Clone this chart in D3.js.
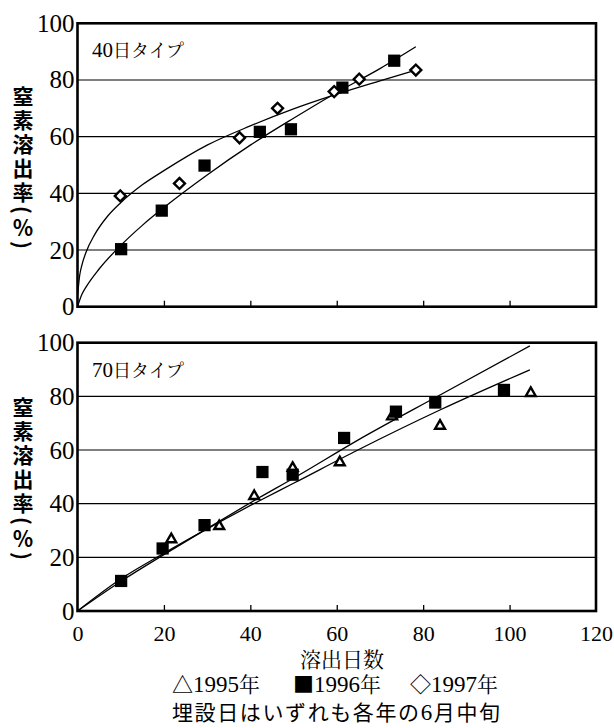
<!DOCTYPE html>
<html>
<head>
<meta charset="utf-8">
<script src="https://cdn.jsdelivr.net/npm/d3@7.9.0/dist/d3.min.js"></script>
<style>
  body { margin: 0; background: #fff; }
  svg { display: block; }
</style>
</head>
<body>
<svg id="chart" width="614" height="728"></svg>
<script>
const serif = '"Liberation Serif"';
const mincho = '"Noto Serif CJK JP"';
const gothic = '"Noto Sans CJK JP"';

const xTicks = [0, 20, 40, 60, 80, 100, 120];
const yTicks = [0, 20, 40, 60, 80, 100];
const yTitle = '窒素溶出率(％)';

// 40日タイプ
const sq40 = [[10.1, 20.3], [19.5, 33.9], [29.4, 49.8], [42.2, 61.7], [49.4, 62.6], [61.3, 77.3], [73.3, 86.8]];
const dia40 = [[9.9, 39.1], [23.6, 43.5], [37.5, 59.6], [46.3, 70.0], [59.4, 75.9], [65.2, 80.3], [78.3, 83.5]];
const sqFit40 = [[0, 0], [1, 4.3], [2, 7], [5, 13.3], [10, 21.6], [15, 28.7], [20, 35], [30, 46.5], [40, 57], [50, 66.5], [60, 75.6], [70, 84], [78.3, 91.7]];
const diaFit40 = [[0.05, 4.5], [0.5, 11], [1, 14.6], [2, 19.3], [4, 25.5], [7, 32], [10, 36.7], [15, 43], [20, 48], [30, 57], [40, 63.8], [50, 69.8], [60, 75], [70, 79.7], [78.3, 83.5]];

// 70日タイプ
const tri70 = [[21.7, 26.7], [32.8, 31.6], [40.9, 42.8], [49.8, 53.3], [60.7, 55.4], [72.8, 72.5], [83.9, 69.0], [104.9, 81.2]];
const sq70 = [[10.1, 11.2], [19.7, 23.3], [29.4, 32.0], [42.8, 51.8], [49.8, 50.8], [61.7, 64.5], [73.7, 74.3], [82.8, 77.7], [98.7, 82.4]];
const sqFit70 = [[0, 0], [10, 11], [20, 21], [30, 30.7], [42, 42.2], [50, 49.5], [65, 63.8], [84, 80.6], [104.7, 98.8]];
const triFit70 = [[0, 0], [10, 11.9], [20, 21.5], [30, 30.6], [42, 41], [50, 47.6], [65, 60.1], [84, 75], [104.7, 89.9]];

const svg = d3.select('#chart');

const x = d3.scaleLinear().domain([0, 120]).range([77.5, 596]);

const markSquare = d3.symbol(d3.symbolSquare, 150);
const markDiamond = d3.symbol(d3.symbolSquare, 60);
const markTriangle = d3.symbol(d3.symbolTriangle, 42);

function drawPanel(top, bottom, titleY, label, fits, series, showXLabels) {
  const y = d3.scaleLinear().domain([0, 100]).range([bottom, top]);
  const g = svg.append('g');

  // gridlines
  g.selectAll('.grid')
    .data(yTicks.filter(v => v > 0 && v < 100))
    .enter()
    .append('line')
    .attr('x1', x(0))
    .attr('x2', x(120))
    .attr('y1', d => y(d))
    .attr('y2', d => y(d))
    .attr('stroke', '#000')
    .attr('stroke-width', 1.2);

  // fitted curves
  const line = d3.line()
    .x(d => x(d[0]))
    .y(d => y(d[1]))
    .curve(d3.curveMonotoneX);

  fits.forEach(f => {
    g.append('path')
      .attr('d', line(f))
      .attr('fill', 'none')
      .attr('stroke', '#000')
      .attr('stroke-width', 1.3);
  });

  // markers
  series.forEach(s => {
    g.selectAll(null)
      .data(s.data)
      .enter()
      .append('path')
      .attr('d', s.shape)
      .attr('transform', d => `translate(${x(d[0])},${y(d[1])}) rotate(${s.rotate || 0})`)
      .attr('fill', s.fill)
      .attr('stroke', '#000')
      .attr('stroke-width', s.fill === '#000' ? 0 : 2.4);
  });

  // x axis ticks (inward)
  const xAxis = d3.axisBottom(x)
    .tickValues(showXLabels ? xTicks : xTicks.slice(1, -1))
    .tickSize(-6)
    .tickPadding(14)
    .tickFormat(showXLabels ? d3.format('d') : '');

  const xg = g.append('g')
    .attr('transform', `translate(0,${bottom})`)
    .call(xAxis);
  xg.select('.domain').remove();
  xg.selectAll('line').attr('stroke-width', 1.3);
  xg.selectAll('text')
    .attr('fill', '#000')
    .style('font-family', serif)
    .style('font-size', '22px');

  if (showXLabels) {
    xg.selectAll('.tick').filter(d => d === 0 || d === 120).select('line').remove();
  }

  // y axis labels
  const yg = g.append('g')
    .attr('transform', `translate(${x(0)},0)`)
    .call(d3.axisLeft(y).tickValues(yTicks).tickSize(0).tickPadding(3));
  yg.select('.domain').remove();
  yg.selectAll('text')
    .attr('fill', '#000')
    .style('font-family', serif)
    .style('font-size', '25px');

  // frame
  g.append('rect')
    .attr('x', x(0))
    .attr('y', top)
    .attr('width', x(120) - x(0))
    .attr('height', bottom - top)
    .attr('fill', 'none')
    .attr('stroke', '#000')
    .attr('stroke-width', 2.6);

  // panel label
  const t = g.append('text')
    .attr('x', 92)
    .attr('y', top + 34);
  t.append('tspan').style('font-family', serif).style('font-size', '21px').text(label[0]);
  t.append('tspan').style('font-family', mincho).style('font-size', '18px').text(label[1]);

  // vertical y title
  g.append('text')
    .attr('x', 23)
    .attr('y', titleY)
    .style('writing-mode', 'vertical-rl')
    .style('font-family', gothic)
    .style('font-weight', 'bold')
    .style('font-size', '21px')
    .style('letter-spacing', '3px')
    .text(yTitle);
}

drawPanel(23.3, 306.7, 86, ['40', '日タイプ'], [sqFit40, diaFit40], [
  { data: sq40, shape: markSquare(), fill: '#000' },
  { data: dia40, shape: markDiamond(), fill: '#fff', rotate: 45 }
], false);

drawPanel(342.7, 611, 397, ['70', '日タイプ'], [sqFit70, triFit70], [
  { data: tri70, shape: markTriangle(), fill: '#fff' },
  { data: sq70, shape: markSquare(), fill: '#000' }
], true);

// x axis title
svg.append('text')
  .attr('x', 342)
  .attr('y', 667)
  .attr('text-anchor', 'middle')
  .style('font-family', mincho)
  .style('font-size', '21px')
  .text('溶出日数');

// legend
const legendItems = [
  { sym: '△', year: '1995', x: 172 },
  { sym: '■', year: '1996', x: 293 },
  { sym: '◇', year: '1997', x: 410 }
];
legendItems.forEach(d => {
  const t = svg.append('text').attr('x', d.x).attr('y', 692);
  t.append('tspan').style('font-family', mincho).style('font-size', '21px').text(d.sym);
  t.append('tspan').style('font-family', serif).style('font-size', '23px').text(d.year);
  t.append('tspan').style('font-family', mincho).style('font-size', '21px').text('年');
});

// note
const note = svg.append('text')
  .attr('x', 172)
  .attr('y', 720)
  .attr('textLength', 328)
  .attr('lengthAdjust', 'spacing');
note.append('tspan').style('font-family', gothic).style('font-size', '21px').text('埋設日はいずれも各年の');
note.append('tspan').style('font-family', serif).style('font-size', '23px').text('6');
note.append('tspan').style('font-family', gothic).style('font-size', '21px').text('月中旬');
</script>
</body>
</html>
